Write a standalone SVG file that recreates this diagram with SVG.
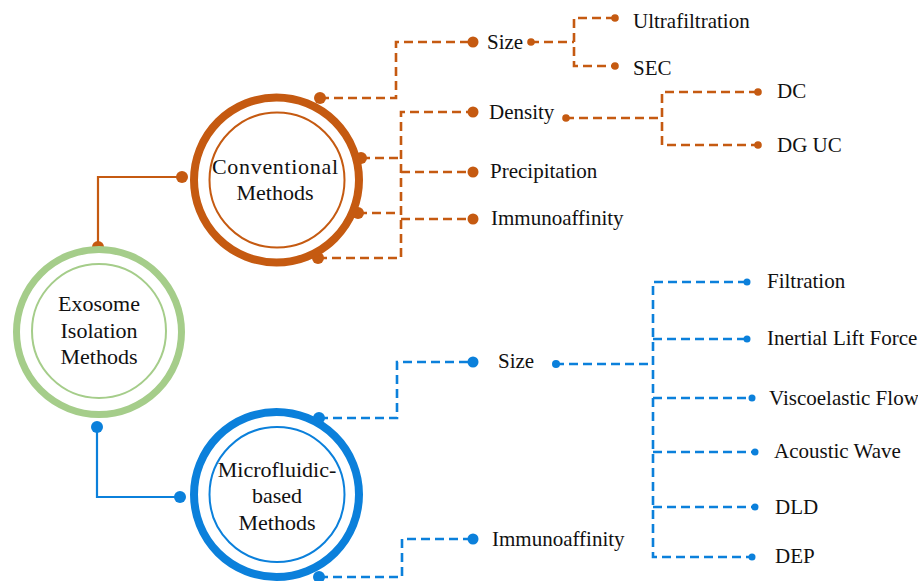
<svg xmlns="http://www.w3.org/2000/svg" width="918" height="581" viewBox="0 0 918 581" font-family="'Liberation Serif', 'Times New Roman', Times, serif">
<style>
text{fill:#111;}
.big{font-size:22px;text-anchor:middle;}
.lbl{font-size:21px;}
.o{stroke:#C55A11;fill:none;}
.b{stroke:#0B80DB;fill:none;}
.g{stroke:#A5CD8A;fill:none;}
.od{fill:#C55A11;}
.bd{fill:#0B80DB;}
.dash{stroke-width:2.6;stroke-dasharray:9 5;}
.solid{stroke-width:2.2;}
</style>
<rect width="918" height="581" fill="#fff"/>
<g id="connectors">
  <polyline class="o solid" points="98,247 98,177 182,177"/>
  <polyline class="b solid" points="97,427 97,497 180,497"/>
  <polyline class="o dash" points="320,98 396,98 396,42 473,42"/>
  <polyline class="o dash" points="361,158 400,158"/>
  <polyline class="o dash" points="358,213 400,213"/>
  <polyline class="o dash" points="318,258 401,258 401,112 473,112"/>
  <polyline class="o dash" points="401,172 473,172"/>
  <polyline class="o dash" points="401,219 473,219"/>
  <polyline class="o dash" points="530,42 574,42"/>
  <polyline class="o dash" points="615,18 574,18 574,66 615,66"/>
  <polyline class="o dash" points="565,118 662,118"/>
  <polyline class="o dash" points="758,92 662,92 662,145 758,145"/>
  <polyline class="b dash" points="319,418 397,418 397,362 473,362"/>
  <polyline class="b dash" points="319,577 402,577 402,539 473,539"/>
  <polyline class="b dash" points="555,364 653,364"/>
  <polyline class="b dash" points="747,282 653,282 653,557 752,557"/>
  <polyline class="b dash" points="653,339 747,339"/>
  <polyline class="b dash" points="653,398 752,398"/>
  <polyline class="b dash" points="653,452 755,452"/>
  <polyline class="b dash" points="653,507 755,507"/>
  <circle class="od" cx="98" cy="247" r="6"/>
  <circle class="od" cx="182" cy="177" r="6"/>
  <circle class="od" cx="320" cy="98" r="6"/>
  <circle class="od" cx="361" cy="158" r="6"/>
  <circle class="od" cx="358" cy="213" r="6"/>
  <circle class="od" cx="318" cy="258" r="6"/>
  <circle class="od" cx="473" cy="42" r="5.5"/>
  <circle class="od" cx="473" cy="112" r="5.5"/>
  <circle class="od" cx="473" cy="172" r="5.5"/>
  <circle class="od" cx="473" cy="219" r="5.5"/>
  <circle class="od" cx="531" cy="42" r="3.8"/>
  <circle class="od" cx="615" cy="18" r="3.8"/>
  <circle class="od" cx="615" cy="66" r="3.8"/>
  <circle class="od" cx="566" cy="118" r="3.8"/>
  <circle class="od" cx="758" cy="92" r="3.8"/>
  <circle class="od" cx="758" cy="145" r="3.8"/>
  <circle class="bd" cx="97" cy="427" r="6"/>
  <circle class="bd" cx="180" cy="497" r="6"/>
  <circle class="bd" cx="319" cy="418" r="6"/>
  <circle class="bd" cx="319" cy="577" r="6"/>
  <circle class="bd" cx="473" cy="362" r="5.5"/>
  <circle class="bd" cx="473" cy="539" r="5.5"/>
  <circle class="bd" cx="556" cy="364" r="4"/>
  <circle class="bd" cx="747" cy="282" r="3.5"/>
  <circle class="bd" cx="747" cy="339" r="3.5"/>
  <circle class="bd" cx="752" cy="398" r="3.5"/>
  <circle class="bd" cx="755" cy="452" r="3.5"/>
  <circle class="bd" cx="755" cy="507" r="3.5"/>
  <circle class="bd" cx="752" cy="557" r="3.5"/>
</g>
<g id="root">
  <circle class="g" cx="99" cy="332" r="82.5" stroke-width="7"/>
  <circle class="g" cx="99" cy="331" r="67" stroke-width="2"/>
  <text class="big" x="99" y="311">Exosome</text>
  <text class="big" x="99" y="338">Isolation</text>
  <text class="big" x="99" y="364">Methods</text>
</g>
<g id="conventional">
  <circle class="o" cx="276.5" cy="180" r="82.5" stroke-width="8"/>
  <circle class="o" cx="277" cy="180" r="67.5" stroke-width="2"/>
  <text class="big" x="275" y="174" textLength="126" lengthAdjust="spacing">Conventional</text>
  <text class="big" x="275" y="200">Methods</text>
</g>
<g id="microfluidic">
  <circle class="b" cx="276.5" cy="494.5" r="82.5" stroke-width="8"/>
  <circle class="b" cx="277" cy="494.5" r="67.5" stroke-width="2"/>
  <text class="big" x="277" y="477">Microfluidic-</text>
  <text class="big" x="277" y="503">based</text>
  <text class="big" x="277" y="530">Methods</text>
</g>
<g id="conv-size"><text class="lbl" x="487" y="49">Size</text></g>
<g id="conv-density"><text class="lbl" x="489" y="119">Density</text></g>
<g id="conv-precip"><text class="lbl" x="490" y="178">Precipitation</text></g>
<g id="conv-immuno"><text class="lbl" x="491" y="225">Immunoaffinity</text></g>
<g id="ultrafiltration"><text class="lbl" x="633" y="28">Ultrafiltration</text></g>
<g id="sec"><text class="lbl" x="633" y="75">SEC</text></g>
<g id="dc"><text class="lbl" x="777" y="98">DC</text></g>
<g id="dguc"><text class="lbl" x="777" y="152">DG UC</text></g>
<g id="mf-size"><text class="lbl" x="498" y="368">Size</text></g>
<g id="mf-immuno"><text class="lbl" x="492" y="546">Immunoaffinity</text></g>
<g id="filtration"><text class="lbl" x="767" y="288">Filtration</text></g>
<g id="inertial"><text class="lbl" x="767" y="345">Inertial Lift Force</text></g>
<g id="visco"><text class="lbl" x="769" y="405">Viscoelastic Flow</text></g>
<g id="acoustic"><text class="lbl" x="774" y="458">Acoustic Wave</text></g>
<g id="dld"><text class="lbl" x="775" y="514">DLD</text></g>
<g id="dep"><text class="lbl" x="775" y="563">DEP</text></g>
</svg>
